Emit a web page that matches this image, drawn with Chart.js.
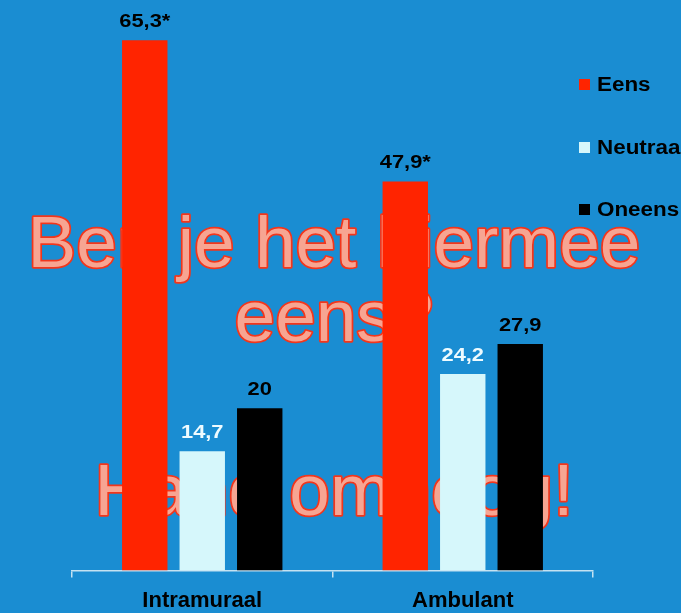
<!DOCTYPE html>
<html>
<head>
    <meta charset="utf-8">
    <title>Ben je het hiermee eens?</title>
    <script src="https://cdn.jsdelivr.net/npm/chart.js"></script>
    <style>
        html, body {
            margin: 0;
            padding: 0;
            background: #1a8dd2;
            overflow: hidden;
        }

        .chart-box {
            position: relative;
            width: 681px;
            height: 624px;
        }
    </style>
</head>
<body>
<div class="chart-box">
    <canvas id="surveyChart"></canvas>
</div>

<script>
    // Categories and answer shares (%)
    const groups = ['Intramuraal', 'Ambulant'];
    const answers = ['Eens', 'Neutraal', 'Oneens'];
    const eens = [65.3, 47.9];
    const neutraal = [14.7, 24.2];
    const oneens = [20, 27.9];
    // significant differences get an asterisk
    const eensSignificant = [true, true];
    const neutraalSignificant = [false, false];
    const oneensSignificant = [false, false];

    const barColors = ['#ff2400', '#d6f7fb', '#000000'];
    const valueColors = ['#000000', '#eefbff', '#000000'];
    const FONT = "'Liberation Sans', Arial, sans-serif";

    const formatValue = (v, star) => String(v).replace('.', ',') + (star ? '*' : '');

    // draws text a little wider than the font itself
    function wideText(ctx, txt, x, y, stretch) {
        ctx.save();
        ctx.translate(x, y);
        ctx.scale(stretch, 1);
        ctx.fillText(txt, 0, 0);
        ctx.restore();
    }

    // big question written behind the bars
    const bannerText = {
        id: 'bannerText',
        beforeDatasetsDraw(chart) {
            const ctx = chart.ctx;
            ctx.save();
            ctx.font = '73px ' + FONT;
            ctx.textAlign = 'center';
            ctx.textBaseline = 'alphabetic';
            ctx.lineJoin = 'round';
            ctx.lineWidth = 3.5;
            ctx.strokeStyle = '#f2361c';
            ctx.fillStyle = '#f7a592';
            const lines = [['Ben je het hiermee', 267], ['eens?', 341], ['Hand omhoog!', 515]];
            lines.forEach(([txt, y]) => {
                ctx.strokeText(txt, 334, y);
                ctx.fillText(txt, 334, y);
            });
            ctx.restore();
        }
    };

    // numbers above each bar
    const barValues = {
        id: 'barValues',
        afterDatasetsDraw(chart) {
            const ctx = chart.ctx;
            ctx.save();
            ctx.font = 'bold 19px ' + FONT;
            ctx.textAlign = 'center';
            ctx.textBaseline = 'bottom';
            chart.data.datasets.forEach((ds, i) => {
                chart.getDatasetMeta(i).data.forEach((bar, j) => {
                    ctx.fillStyle = valueColors[i];
                    wideText(ctx, formatValue(ds.data[j], ds.significant[j]), bar.x, bar.y - 9, 1.15);
                });
            });
            ctx.restore();
        }
    };

    // legend on the right edge
    const sideLegend = {
        id: 'sideLegend',
        afterDraw(chart) {
            const ctx = chart.ctx;
            ctx.save();
            ctx.font = 'bold 20px ' + FONT;
            ctx.textBaseline = 'middle';
            ctx.textAlign = 'left';
            const rows = [84, 147, 209];
            chart.data.datasets.forEach((ds, i) => {
                ctx.fillStyle = ds.backgroundColor;
                ctx.fillRect(579, rows[i] - 5, 11, 11);
                ctx.fillStyle = '#000000';
                wideText(ctx, ds.label, 597, rows[i] + 1, 1.12);
            });
            ctx.restore();
        }
    };

    new Chart(document.getElementById('surveyChart'), {
        type: 'bar',
        data: {
            labels: groups,
            datasets: [
                { label: answers[0], data: eens, significant: eensSignificant, backgroundColor: barColors[0] },
                { label: answers[1], data: neutraal, significant: neutraalSignificant, backgroundColor: barColors[1] },
                { label: answers[2], data: oneens, significant: oneensSignificant, backgroundColor: barColors[2] }
            ]
        },
        options: {
            responsive: true,
            maintainAspectRatio: false,
            animation: false,
            categoryPercentage: 0.662,
            barPercentage: 0.79,
            layout: {
                padding: { left: 72, right: 88, top: 2, bottom: 0 }
            },
            plugins: {
                legend: { display: false },
                tooltip: { enabled: false }
            },
            scales: {
                x: {
                    grid: {
                        display: true,
                        drawOnChartArea: false,
                        drawTicks: true,
                        tickLength: 7,
                        offset: true,
                        color: '#c4e2f2',
                        lineWidth: 1.5
                    },
                    border: { display: true, color: '#c4e2f2', width: 1.5 },
                    ticks: {
                        color: '#000000',
                        padding: 10,
                        font: { family: FONT, size: 22, weight: 'bold' }
                    }
                },
                y: {
                    display: false,
                    min: 0,
                    max: 70
                }
            }
        },
        plugins: [bannerText, barValues, sideLegend]
    });
</script>
</body>
</html>
